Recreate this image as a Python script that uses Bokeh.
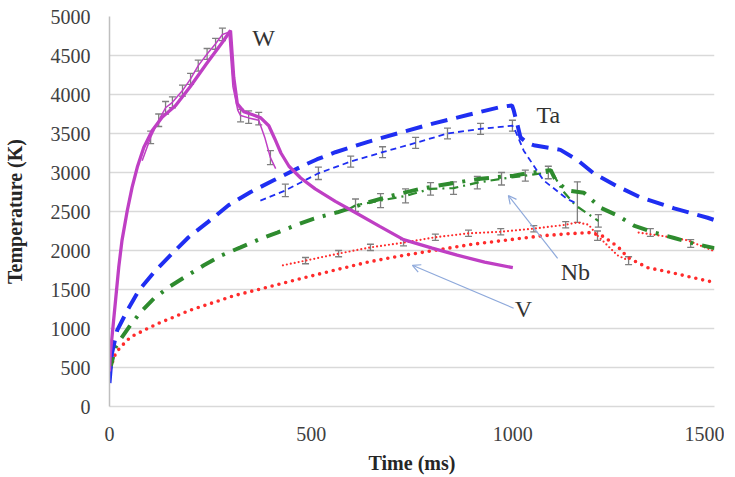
import math
from bokeh.plotting import figure
from bokeh.models import (ColumnDataSource, Whisker, TeeHead, Label, Arrow,
                          OpenHead, FixedTicker)
from bokeh.embed import file_html
from bokeh.resources import INLINE

NaN = float("nan")

# ---------------- data ----------------
x_ticks = [0, 500, 1000, 1500]
y_ticks = [0, 500, 1000, 1500, 2000, 2500, 3000, 3500, 4000, 4500, 5000]

# W simulation
W_sim_t = [0, 2, 7, 15, 23, 31, 44, 56, 69, 85, 106, 131, 164, 200, 240, 280, 300,
           308, 317, 333, 355, 375, 395, 410, 425, 445, 474, 510, 560, 605, 670, 729,
           800, 862, 930, 1000]
W_sim_T = [450, 680, 935, 1360, 1790, 2130, 2510, 2810, 3070, 3320, 3540, 3710, 3860,
           4100, 4390, 4670, 4820, 4220, 3880, 3780, 3740, 3700, 3600, 3430, 3250,
           3080, 2930, 2790, 2630, 2500, 2310, 2140, 2030, 1940, 1850, 1780]
# W experiment
W_exp_t = [81, 102, 122, 139, 156, 181, 201, 220, 242, 263, 280, 296, 306, 318, 325,
           345, 370, 385, 399, 412]
W_exp_T = [3150, 3450, 3670, 3830, 3900, 4050, 4200, 4370, 4520, 4650, 4770, 4800,
           4100, 3800, 3730, 3700, 3670, 3450, 3190, 3050]
W_err_t = [102, 122, 139, 156, 181, 201, 220, 242, 263, 280, 325, 345, 370, 399]
W_err_T = [3450, 3670, 3830, 3900, 4050, 4200, 4370, 4520, 4650, 4770, 3730, 3710,
           3690, 3190]
W_err_e = [80, 80, 80, 70, 70, 70, 70, 70, 70, 80, 80, 80, 80, 90]

# Ta simulation
Ta_sim_t = [0, 6, 19, 44, 73, 110, 155, 196, 243, 295, 350, 407, 481, 515, 560,
            639, 720, 804, 890, 970, 998, 1002, 1012, 1019, 1035, 1052, 1118, 1160,
            1200, 1260, 1317, 1400, 1483, 1500]
Ta_sim_T = [300, 680, 975, 1230, 1490, 1720, 1960, 2170, 2360, 2580, 2750, 2900,
            3090, 3170, 3260, 3390, 3510, 3630, 3740, 3840, 3860, 3800, 3600, 3450,
            3380, 3350, 3290, 3160, 2990, 2820, 2680, 2540, 2420, 2390]
# Ta experiment
Ta_exp_t = [374, 436, 518, 598, 677, 759, 838, 920, 999, 1004, 1027, 1076, 1135, 1160]
Ta_exp_T = [2640, 2770, 2990, 3140, 3260, 3380, 3500, 3560, 3600, 3560, 3280, 2900,
            2660, 2600]
Ta_err_t = [436, 518, 598, 677, 759, 838, 920, 999, 1160]
Ta_err_T = [2770, 2990, 3140, 3260, 3380, 3500, 3560, 3600, 2620]
Ta_err_e = [80, 80, 70, 70, 70, 70, 70, 70, 260]

# Nb simulation
Nb_sim_t = [0, 15, 27, 48, 77, 110, 147, 193, 234, 279, 325, 370, 416, 465, 507,
            565, 630, 697, 770, 846, 920, 1002, 1050, 1094, 1106, 1135, 1176, 1217,
            1259, 1300, 1350, 1400, 1448, 1500]
Nb_sim_T = [450, 760, 860, 1015, 1210, 1385, 1530, 1680, 1810, 1940, 2040, 2140,
            2230, 2330, 2410, 2490, 2600, 2700, 2790, 2860, 2920, 2960, 3000, 3030,
            2900, 2770, 2740, 2550, 2450, 2320, 2230, 2160, 2090, 2030]
# Nb experiment
Nb_exp_t = [590, 610, 672, 734, 796, 853, 912, 972, 1031, 1088, 1100, 1123, 1155, 1212]
Nb_exp_T = [2520, 2580, 2640, 2700, 2790, 2800, 2870, 2920, 2960, 3000, 2980, 2770,
            2580, 2380]
Nb_err_t = [610, 672, 734, 796, 853, 912, 972, 1031, 1088, 1212, 1341, 1441]
Nb_err_T = [2580, 2640, 2700, 2790, 2800, 2870, 2920, 2960, 3000, 2380, 2230, 2090]
Nb_err_e = [80, 90, 90, 80, 80, 80, 80, 70, 80, 80, 50, 50]

# V simulation
V_sim_t = [0, 2, 15, 27, 52, 85, 118, 159, 197, 250, 308, 392, 474, 560, 639, 720,
           804, 900, 1011, 1076, 1140, 1192, 1225, 1262, 1285, 1334, 1391, 1448, 1500]
V_sim_T = [400, 490, 680, 760, 890, 975, 1060, 1145, 1230, 1320, 1420, 1530, 1640,
           1750, 1850, 1930, 2000, 2080, 2150, 2190, 2215, 2230, 2180, 2040, 1910,
           1780, 1720, 1650, 1590]
# V experiment
V_exp_t = [430, 486, 568, 647, 729, 808, 890, 970, 1052, 1131, 1160, 1188, 1210, 1259,
           1287, NaN, 1312, 1366, 1433, 1500]
V_exp_T = [1810, 1870, 1960, 2040, 2100, 2170, 2220, 2240, 2280, 2330, 2360, 2330,
           2190, 1940, 1870, NaN, 2230, 2190, 2130, 1990]
V_err_t = [486, 568, 647, 729, 808, 890, 970, 1052, 1131, 1210, 1287]
V_err_T = [1870, 1960, 2040, 2100, 2170, 2220, 2240, 2280, 2330, 2190, 1870]
V_err_e = [40, 40, 40, 40, 40, 40, 40, 40, 40, 60, 50]

# labels and arrows (data coordinates)
lab_text = ["W", "Ta", "Nb", "V"]
lab_t = [382, 1088, 1155, 1026]
lab_T = [4718, 3731, 1718, 1256]
arr_t0 = [1111, 1002]
arr_T0 = [1900, 1260]
arr_t1 = [989, 751]
arr_T1 = [2705, 1810]

# ---------------- styles ----------------
C_W = "#BF3FC4"
C_TA = "#1F2EF2"
C_NB = "#2E8B2E"
C_V = "#FF2B2B"
C_ERR = "#7F7F7F"
FONT = "Liberation Serif"

p = figure(frame_width=605, frame_height=390, x_range=(0, 1500), y_range=(0, 5000),
           output_backend="svg", toolbar_location=None,
           min_border_top=16, min_border_left=109, min_border_right=10,
           min_border_bottom=40)
p.outline_line_color = None
p.background_fill_color = "white"
p.border_fill_color = "white"

p.xgrid.grid_line_color = None
p.ygrid.grid_line_color = "#D9D9D9"
p.ygrid.grid_line_width = 1.5
p.ygrid.ticker = FixedTicker(ticks=y_ticks)

p.xaxis.ticker = FixedTicker(ticks=x_ticks)
p.yaxis.ticker = FixedTicker(ticks=y_ticks)
for ax in (p.xaxis[0], p.yaxis[0]):
    ax.major_tick_line_color = None
    ax.minor_tick_line_color = None
    ax.major_label_text_font = FONT
    ax.major_label_text_font_size = "20px"
    ax.major_label_text_color = "#404040"
    ax.axis_label_text_font = FONT
    ax.axis_label_text_font_size = "20px"
    ax.axis_label_text_font_style = "bold"
    ax.axis_label_text_color = "#262626"
    ax.axis_line_color = "#BFBFBF"
    ax.axis_line_width = 1.5
p.xaxis.axis_line_color = "#D9D9D9"
p.xaxis.axis_label = "Time (ms)"
p.yaxis.axis_label = "Temperature (K)"
p.xaxis.major_label_standoff = 14
p.yaxis.major_label_standoff = 13
p.xaxis.axis_label_standoff = 8
p.yaxis.axis_label_standoff = 22


def errbars(t, T, e):
    src = ColumnDataSource(dict(t=t, lo=[a - b for a, b in zip(T, e)],
                                hi=[a + b for a, b in zip(T, e)]))
    w = Whisker(base="t", lower="lo", upper="hi", source=src,
                line_color=C_ERR, line_width=1.3,
                upper_head=TeeHead(size=7, line_color=C_ERR, line_width=1.3),
                lower_head=TeeHead(size=7, line_color=C_ERR, line_width=1.3))
    p.add_layout(w)


# V
p.line(V_sim_t, V_sim_T, line_color=C_V, line_width=3.6, line_dash="0 7",
       line_cap="round")
p.line(V_exp_t, V_exp_T, line_color=C_V, line_width=2.2, line_dash="0 4",
       line_cap="round")
errbars(V_err_t, V_err_T, V_err_e)

# Nb
p.line(Nb_sim_t, Nb_sim_T, line_color=C_NB, line_width=4, line_dash="15 9 3 9")
p.line(Nb_exp_t, Nb_exp_T, line_color=C_NB, line_width=2.2, line_dash="9 5 2 5")
errbars(Nb_err_t, Nb_err_T, Nb_err_e)

# Ta
p.line(Ta_sim_t, Ta_sim_T, line_color=C_TA, line_width=4, line_dash="17 9")
p.line(Ta_exp_t, Ta_exp_T, line_color=C_TA, line_width=1.8, line_dash="6 4")
errbars(Ta_err_t, Ta_err_T, Ta_err_e)

# W
p.line(W_exp_t, W_exp_T, line_color=C_W, line_width=1.5)
errbars(W_err_t, W_err_T, W_err_e)
p.line(W_sim_t, W_sim_T, line_color=C_W, line_width=3.3)

for i in range(len(arr_t0)):
    p.add_layout(Arrow(x_start=arr_t0[i], y_start=arr_T0[i], x_end=arr_t1[i],
                       y_end=arr_T1[i], line_color="#8EA9DB", line_width=1.2,
                       end=OpenHead(size=8, line_color="#8EA9DB", line_width=1.2)))

for s, x, y in zip(lab_text, lab_t, lab_T):
    p.add_layout(Label(x=x, y=y, text=s, text_font=FONT, text_font_size="24px",
                       text_color="#333333", text_align="center",
                       text_baseline="middle"))

open("out.html", "w").write(file_html(p, INLINE))
